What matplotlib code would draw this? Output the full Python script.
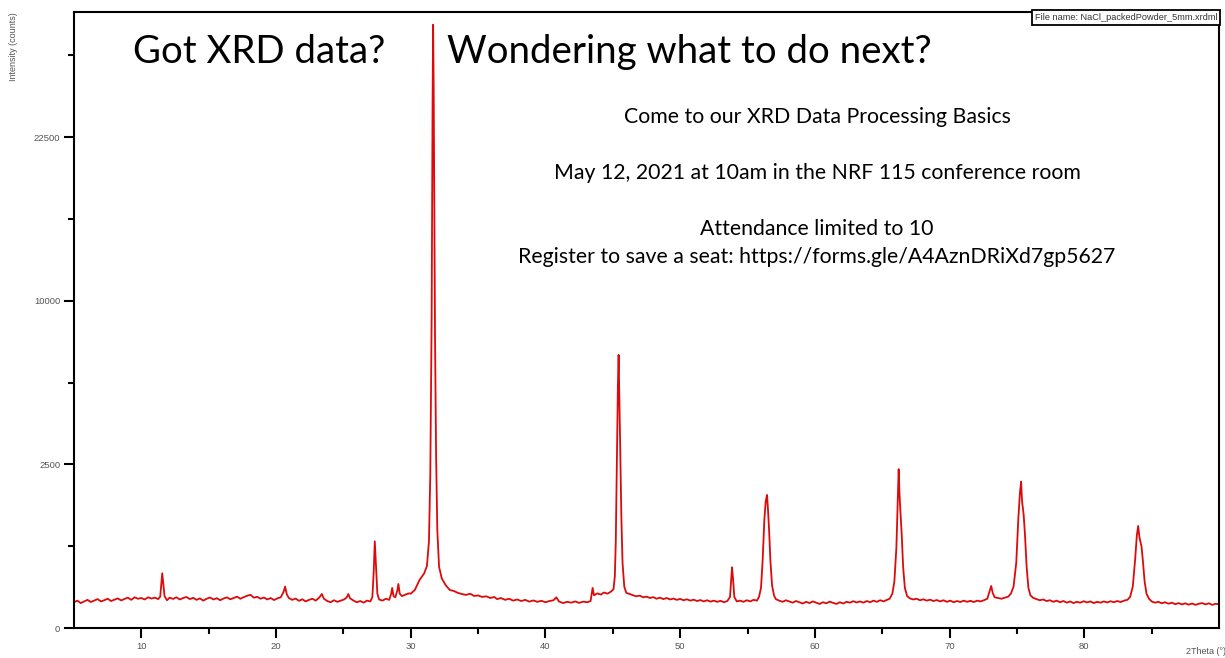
import numpy as np
import matplotlib
matplotlib.use('Agg')
import matplotlib.pyplot as plt
from matplotlib.ticker import FixedLocator, NullFormatter

# traced scan: 2theta (deg) and intensity (counts)
two_theta = [
    5.0, 5.25, 5.5, 5.75, 6.0, 6.25, 6.5, 6.75, 7.0, 7.25,
    7.5, 7.75, 8.0, 8.25, 8.5, 8.75, 9.0, 9.25, 9.5, 9.75,
    10.0, 10.25, 10.5, 10.75, 11.0, 11.25, 11.4, 11.5, 11.55, 11.62,
    11.72, 11.9, 12.1, 12.35, 12.6, 12.85, 13.1, 13.35, 13.6, 13.85,
    14.1, 14.35, 14.6, 14.85, 15.1, 15.35, 15.6, 15.85, 16.1, 16.35,
    16.6, 16.85, 17.1, 17.35, 17.6, 17.85, 18.1, 18.35, 18.6, 18.85,
    19.1, 19.35, 19.6, 19.85, 20.1, 20.35, 20.55, 20.67, 20.8, 20.95,
    21.2, 21.45, 21.7, 21.95, 22.2, 22.45, 22.7, 22.95, 23.2, 23.4,
    23.55, 23.8, 24.05, 24.3, 24.55, 24.8, 25.05, 25.25, 25.36, 25.5,
    25.75, 26.0, 26.25, 26.5, 26.75, 27.0, 27.15, 27.25, 27.33, 27.42,
    27.52, 27.65, 27.9, 28.15, 28.4, 28.55, 28.62, 28.72, 28.85, 29.0,
    29.08, 29.18, 29.35, 29.6, 29.85, 30.0, 30.3, 30.65, 31.0, 31.2,
    31.35, 31.45, 31.55, 31.62, 31.66, 31.7, 31.74, 31.8, 31.88, 31.97,
    32.1, 32.3, 32.6, 32.9, 33.2, 33.5, 33.8, 34.1, 34.4, 34.7,
    35.0, 35.3, 35.6, 35.9, 36.2, 36.4, 36.7, 37.0, 37.3, 37.6,
    37.9, 38.2, 38.5, 38.8, 39.1, 39.4, 39.7, 40.0, 40.3, 40.6,
    40.8, 41.0, 41.3, 41.6, 41.9, 42.2, 42.5, 42.8, 43.1, 43.35,
    43.5, 43.6, 43.85, 44.1, 44.35, 44.6, 44.85, 45.05, 45.15, 45.22,
    45.3, 45.38, 45.43, 45.48, 45.55, 45.63, 45.72, 45.85, 46.0, 46.25,
    46.5, 46.75, 47.0, 47.25, 47.5, 47.75, 48.0, 48.25, 48.5, 48.75,
    49.0, 49.25, 49.5, 49.75, 50.0, 50.25, 50.5, 50.75, 51.0, 51.25,
    51.5, 51.75, 52.0, 52.25, 52.5, 52.75, 53.0, 53.25, 53.5, 53.7,
    53.8, 53.85, 53.92, 54.02, 54.2, 54.45, 54.7, 54.95, 55.2, 55.45,
    55.7, 55.85, 56.0, 56.12, 56.25, 56.35, 56.45, 56.52, 56.6, 56.7,
    56.82, 56.97, 57.1, 57.35, 57.6, 57.85, 58.1, 58.35, 58.6, 58.85,
    59.1, 59.35, 59.6, 59.85, 60.1, 60.35, 60.6, 60.85, 61.1, 61.35,
    61.6, 61.85, 62.1, 62.35, 62.6, 62.85, 63.1, 63.35, 63.6, 63.85,
    64.1, 64.35, 64.6, 64.85, 65.1, 65.35, 65.55, 65.75, 65.9, 66.05,
    66.15, 66.22, 66.28, 66.35, 66.45, 66.55, 66.68, 66.85, 67.05, 67.3,
    67.55, 67.8, 68.05, 68.3, 68.55, 68.8, 69.05, 69.3, 69.55, 69.8,
    70.05, 70.3, 70.55, 70.8, 71.05, 71.3, 71.55, 71.8, 72.05, 72.3,
    72.55, 72.8, 72.95, 73.09, 73.2, 73.35, 73.6, 73.85, 74.1, 74.35,
    74.55, 74.75, 74.95, 75.1, 75.22, 75.31, 75.38, 75.5, 75.6, 75.72,
    75.85, 76.0, 76.2, 76.45, 76.7, 76.95, 77.2, 77.45, 77.7, 77.95,
    78.2, 78.45, 78.7, 78.95, 79.2, 79.45, 79.7, 79.95, 80.2, 80.45,
    80.7, 80.95, 81.2, 81.45, 81.7, 81.95, 82.2, 82.45, 82.7, 82.95,
    83.2, 83.4, 83.6, 83.78, 83.9, 84.0, 84.1, 84.25, 84.35, 84.48,
    84.62, 84.8, 85.0, 85.25, 85.5, 85.75, 86.0, 86.25, 86.5, 86.75,
    87.0, 87.25, 87.5, 87.75, 88.0, 88.25, 88.5, 88.75, 89.0, 89.25,
    89.5, 89.75, 90.0,
]
counts = [
    62, 70, 58, 66, 74, 63, 70, 78, 66, 72,
    80, 68, 75, 82, 71, 79, 86, 74, 88, 80,
    84, 76, 88, 81, 86, 78, 92, 200, 280, 190,
    95, 72, 86, 79, 88, 76, 84, 90, 78, 85,
    74, 82, 70, 80, 87, 76, 83, 72, 81, 88,
    77, 84, 92, 80, 89, 97, 103, 86, 91, 80,
    87, 76, 84, 73, 82, 88, 120, 160, 105, 84,
    74, 81, 69, 77, 66, 74, 80, 70, 86, 108,
    80, 68, 62, 72, 64, 70, 76, 88, 108, 82,
    70, 62, 68, 60, 70, 66, 90, 300, 700, 360,
    110, 76, 70, 80, 74, 110, 150, 95, 88, 130,
    181, 110, 95, 104, 112, 110, 135, 215, 280, 360,
    700, 2200, 9000, 26000, 34000, 27500, 18000, 8000, 2800, 900,
    350, 230, 170, 135, 128, 115, 108, 102, 110, 96,
    99, 90, 94, 84, 90, 78, 84, 74, 80, 70,
    76, 68, 74, 65, 71, 64, 69, 62, 68, 72,
    88, 66, 58, 64, 60, 66, 59, 65, 62, 68,
    150, 100, 112, 104, 118, 110, 123, 140, 250, 700,
    2500, 5600, 6970, 5200, 3000, 1200, 400, 160, 115, 108,
    100, 94, 98, 88, 92, 84, 89, 80, 86, 78,
    84, 76, 81, 74, 79, 72, 77, 70, 75, 68,
    73, 66, 72, 65, 70, 64, 69, 62, 68, 90,
    250, 345, 230, 90, 66, 70, 64, 72, 66, 74,
    70, 90, 150, 420, 1100, 1500, 1655, 1300, 900, 420,
    170, 98, 78, 70, 64, 72, 66, 60, 68, 62,
    56, 64, 58, 66, 60, 54, 62, 57, 65, 59,
    54, 62, 56, 64, 60, 67, 61, 66, 60, 68,
    62, 70, 64, 72, 66, 74, 80, 110, 200, 600,
    1500, 2355, 1700, 1266, 800, 350, 150, 95, 82, 76,
    80, 72, 77, 70, 75, 68, 73, 66, 72, 64,
    70, 62, 68, 63, 70, 64, 69, 63, 70, 66,
    72, 80, 120, 165, 115, 88, 84, 80, 86, 92,
    110, 160, 400, 1100, 1700, 2000, 1500, 1195, 800, 350,
    150, 100, 85, 78, 72, 76, 68, 72, 64, 70,
    62, 68, 60, 66, 58, 64, 60, 67, 61, 66,
    58, 64, 60, 66, 61, 67, 62, 68, 63, 70,
    74, 90, 160, 450, 800, 973, 760, 619, 420, 200,
    110, 80, 66, 60, 64, 57, 62, 55, 60, 53,
    58, 52, 57, 51, 56, 50, 55, 58, 52, 57,
    50, 55, 52,
]

y_major = [0, 2500, 10000, 22500]
y_minor = [625, 5625, 15625, 30625]
x_major = [10, 20, 30, 40, 50, 60, 70, 80]
x_minor = [15, 25, 35, 45, 55, 65, 75, 85]

headline_left = 'Got XRD data?'
headline_right = 'Wondering what to do next?'
info_lines = [
    'Come to our XRD Data Processing Basics',
    'May 12, 2021 at 10am in the NRF 115 conference room',
    'Attendance limited to 10',
    'Register to save a seat: https://forms.gle/A4AznDRiXd7gp5627',
]
info_y = [117, 173, 229, 257]
file_label = 'File name: NaCl_packedPowder_5mm.xrdml'

W, H = 1225, 658
fig = plt.figure(figsize=(W / 100, H / 100), dpi=100)
ax = fig.add_axes([74 / W, 1 - 628 / H, (1219 - 74) / W, (628 - 12) / H])

ax.plot(two_theta, counts, color='#dc0a0a', lw=1.3)

ax.set_yscale('function', functions=(lambda v: np.sqrt(np.clip(v, 0, None)), lambda v: np.square(v)))
ax.set_xlim(5, 90)
ax.set_ylim(0, 35450)
ax.yaxis.set_major_locator(FixedLocator(y_major))
ax.yaxis.set_minor_locator(FixedLocator(y_minor))
ax.yaxis.set_minor_formatter(NullFormatter())
ax.set_yticklabels([str(v) for v in y_major])
ax.xaxis.set_major_locator(FixedLocator(x_major))
ax.xaxis.set_minor_locator(FixedLocator(x_minor))
ax.xaxis.set_minor_formatter(NullFormatter())

for s in ax.spines.values():
    s.set_linewidth(1.5)
ax.tick_params(which='major', direction='out', length=7, width=1.5,
               labelsize=6.8, labelcolor='#555555', pad=3)
ax.tick_params(which='minor', direction='out', length=4, width=1.5)
for lab in ax.get_xticklabels() + ax.get_yticklabels():
    lab.set_family('Liberation Sans')

fig.text(14 / W, 1 - 47 / H, 'Intensity (counts)', rotation=90, ha='center', va='center',
         fontsize=6.5, color='#555555', family='Liberation Sans')
fig.text(1186 / W, 1 - 651 / H, '2Theta (°)', ha='left', va='center',
         fontsize=6.5, color='#555555', family='Liberation Sans')

ax.text(0.9985, 0.998, file_label, transform=ax.transAxes, ha='right', va='top',
        fontsize=6.6, color='#333333', family='Liberation Sans',
        bbox=dict(boxstyle='square,pad=0.3', fc='white', ec='black', lw=1.3))

fig.text(133 / W, 1 - 52 / H, headline_left, ha='left', va='center',
         fontsize=27.6, family='Lato')
fig.text(447 / W, 1 - 52 / H, headline_right, ha='left', va='center',
         fontsize=27.6, family='Lato')
for txt, yy in zip(info_lines, info_y):
    fig.text(817 / W, 1 - yy / H, txt, ha='center', va='center', fontsize=15.3, family='Lato')

plt.savefig('out.png', dpi=100)
